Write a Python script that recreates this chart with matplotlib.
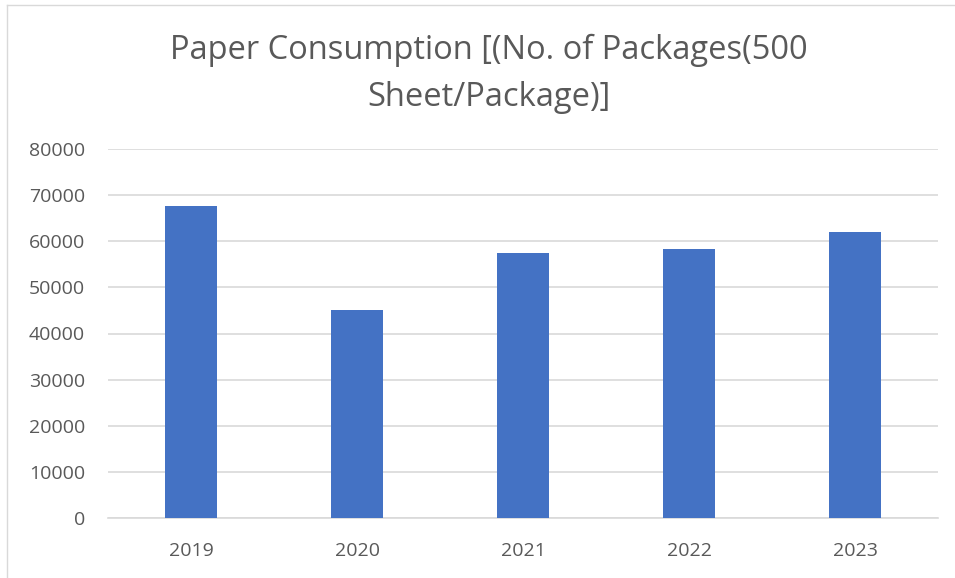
import matplotlib
matplotlib.use("Agg")
import matplotlib.pyplot as plt
from matplotlib.lines import Line2D

# data
years = ["2019", "2020", "2021", "2022", "2023"]
packages = [67640, 45070, 57440, 58310, 62060]
yticks = [0, 10000, 20000, 30000, 40000, 50000, 60000, 70000, 80000]

plt.rcParams['font.family'] = ['Open Sans', 'DejaVu Sans']
txt = '#595959'
grid = '#d9d9d9'

fig = plt.figure(figsize=(9.55, 5.78), dpi=100)
ax = fig.add_axes([108 / 955, 1 - 518 / 578, 830 / 955, 369 / 578])

x = range(len(years))
ax.bar(x, packages, width=0.31, color='#4472C4', zorder=3)

ax.set_xlim(-0.5, len(years) - 0.5)
ax.set_ylim(0, 80000)
ax.set_yticks(yticks)
ax.set_yticklabels([str(v) for v in yticks])
ax.set_xticks(list(x))
ax.set_xticklabels(years)
ax.tick_params(axis='both', length=0, labelsize=14, colors=txt)
ax.tick_params(axis='y', pad=16.5)
ax.tick_params(axis='x', pad=17)
ax.grid(axis='y', color=grid, linewidth=1.2, zorder=0)
for s in ['top', 'right', 'left']:
    ax.spines[s].set_visible(False)
ax.spines['bottom'].set_color(grid)
ax.spines['bottom'].set_linewidth(1.2)

# title, centred slightly right of the figure middle as in the reference
fig.text(489 / 955, 1 - 50 / 578, 'Paper Consumption [(No. of Packages(500',
         ha='center', va='center', fontsize=23.5, color=txt)
fig.text(489 / 955, 1 - 97 / 578, 'Sheet/Package)]',
         ha='center', va='center', fontsize=23.5, color=txt)

# light chart border (left and top visible in the reference)
fig.add_artist(Line2D([7 / 955, 7 / 955], [0, 1 - 5 / 578], transform=fig.transFigure,
                      color=grid, linewidth=1))
fig.add_artist(Line2D([7 / 955, 1], [1 - 5 / 578, 1 - 5 / 578], transform=fig.transFigure,
                      color=grid, linewidth=1))

fig.savefig('out.png', dpi=100)
